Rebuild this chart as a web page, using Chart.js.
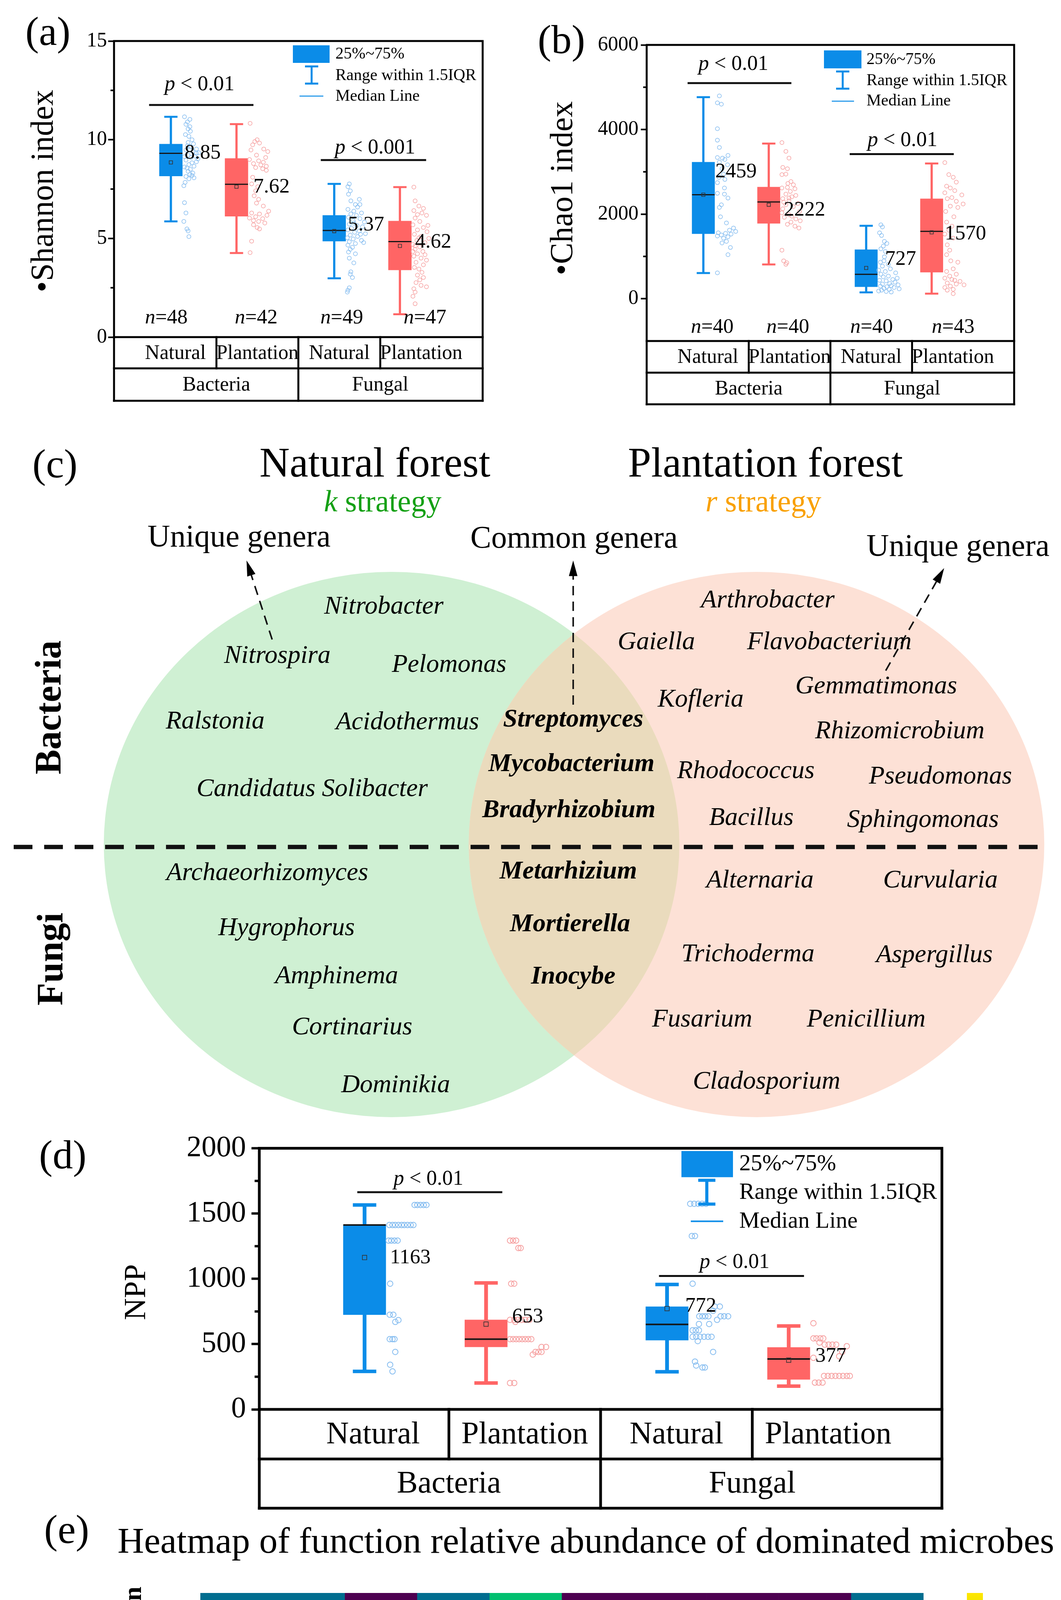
<!DOCTYPE html>
<html>
<head>
<meta charset="utf-8">
<title>Natural vs plantation forest microbes</title>
<script src="https://cdn.jsdelivr.net/npm/chart.js@4.4.1/dist/chart.umd.min.js"></script>
<style>
  html, body { margin: 0; padding: 0; background: #fff; }
  body { position: relative; width: 2717px; height: 5629px; overflow: hidden; }
  canvas { position: absolute; }
</style>
</head>
<body>
<canvas id="chartA" width="1360" height="1060" style="left:0px;top:0px;width:1360px;height:1060px"></canvas>
<canvas id="chartB" width="1357" height="1060" style="left:1360px;top:0px;width:1357px;height:1060px"></canvas>
<canvas id="chartC" width="2717" height="1820" style="left:0px;top:1060px;width:2717px;height:1820px"></canvas>
<canvas id="chartD" width="2717" height="990" style="left:0px;top:2880px;width:2717px;height:990px"></canvas>
<canvas id="chartE" width="2717" height="1759" style="left:0px;top:3870px;width:2717px;height:1759px"></canvas>
<script>
// ---------- shared categories ----------
var groups = ['Natural', 'Plantation', 'Natural', 'Plantation'];
var kingdoms = ['Bacteria', 'Fungal'];
var boxX = [0.444, 1.245, 2.438, 3.24];
var legendText = ['25%~75%', 'Range within 1.5IQR', 'Median Line'];

// ---------- (a) Shannon index ----------
var shannonLow = [5.86, 4.26, 2.98, 1.16];
var shannonQ1 = [8.16, 6.12, 4.86, 3.40];
var shannonMed = [9.31, 7.74, 5.40, 4.84];
var shannonQ3 = [9.78, 9.05, 6.17, 5.88];
var shannonHigh = [11.16, 10.79, 7.76, 7.60];
var shannonMean = [8.85, 7.62, 5.37, 4.62];
var shannonN = [48, 42, 49, 47];
var shannonTicks = [0, 5, 10, 15];
var shannonMinor = [2.5, 7.5, 12.5];
var shannonP = ['0.01', '0.001'];
var shannonDots = [
  [11.16,11.03,10.90,10.78,10.66,10.55,10.43,10.26,10.17,10.00,9.86,9.79,9.66,9.53,9.48,9.40,9.34,9.22,9.17,9.10,9.03,8.97,8.83,8.74,8.66,8.57,8.50,8.40,8.31,8.24,8.14,8.07,8.02,7.84,7.67,6.81,6.29,5.86,5.48,5.38,5.09,9.69,9.31,9.14,8.88,8.62,8.19,9.48],
  [10.83,10.00,9.91,9.83,9.74,9.53,9.48,9.40,9.22,9.10,9.00,8.93,8.86,8.79,8.72,8.66,8.59,8.53,7.76,7.62,7.41,7.16,6.79,6.64,6.29,6.24,6.17,6.10,6.03,6.00,5.90,5.86,5.78,5.55,5.48,4.86,4.28,8.10,8.45,6.98,5.69,6.38],
  [7.76,7.62,7.41,7.24,6.98,6.90,6.72,6.59,6.47,6.38,6.29,6.24,6.17,6.07,6.00,5.90,5.83,5.72,5.66,5.59,5.52,5.43,5.38,5.31,5.24,5.17,5.10,5.03,4.97,4.90,4.83,4.74,4.66,4.55,4.45,4.31,4.00,3.76,3.31,3.19,3.02,2.50,2.38,2.28,5.78,5.21,4.79,4.22,6.72],
  [7.60,6.90,6.64,6.41,6.29,6.21,6.17,6.03,5.86,5.69,5.55,5.43,5.34,5.21,5.10,5.00,4.90,4.79,4.69,4.57,4.45,4.34,4.22,4.10,4.00,3.90,3.79,3.66,3.45,3.28,3.14,3.02,2.90,2.76,2.62,2.45,2.28,2.07,1.69,5.66,5.03,4.62,4.17,3.53,2.55,6.52,4.34]
];
var shannonJit = [
  [.09,.42,.27,.18,.42,.31,.45,.15,.36,.55,.31,.64,.45,.82,.18,.60,.96,.31,.73,.49,.91,.18,.55,.36,.67,.24,.45,.31,.60,.42,.18,.67,.36,.13,.05,.09,.18,.05,.24,.31,.36,.27,.82,.09,.82,.09,.55,.42],
  [.07,.40,.29,.51,.19,.71,.11,.90,.37,.80,.04,.47,.69,.23,.57,.83,.33,.66,.14,.43,.33,.26,.37,.69,.14,.51,.86,.33,.04,.66,.23,.47,.76,.40,.51,.14,.07,.19,.83,.47,.23,.94],
  [.15,.08,.20,.11,.66,.23,.46,.57,.08,.38,.77,.23,.51,.11,.69,.35,.92,.15,.54,.82,.26,.08,.66,.42,.97,.20,.57,.05,.35,.77,.15,.46,.08,.31,.20,.11,.15,.38,.23,.20,.31,.15,.08,.05,.38,.72,.88,.46,.69],
  [.10,.17,.38,.10,.55,.30,.80,.17,.43,.05,.63,.30,.83,.13,.50,.93,.27,.72,.05,.43,.17,.60,.30,.10,.50,.80,.22,.63,.38,.55,.30,.63,.43,.22,.50,.10,.17,.05,.17,.88,.38,.17,.72,.13,.80,.63,.05]
];

// ---------- (b) Chao1 index ----------
var chaoLow = [608, 809, 150, 119];
var chaoQ1 = [1536, 1781, 282, 627];
var chaoMed = [2458, 2288, 577, 1592];
var chaoQ3 = [3229, 2640, 1160, 2364];
var chaoHigh = [4765, 3668, 1724, 3197];
var chaoMean = [2459, 2222, 727, 1570];
var chaoN = [40, 40, 40, 43];
var chaoTicks = [0, 2000, 4000, 6000];
var chaoMinor = [1000, 3000, 5000];
var chaoP = ['0.01', '0.01'];
var chaoDots = [
  [4795,4631,4599,4019,3748,3577,3388,3338,3325,3293,3230,3167,3073,2946,2871,2820,2744,2618,2492,2473,2221,2158,1792,1672,1621,1590,1558,1546,1527,1508,1483,1464,1432,1356,1319,1211,1041,612,2379,1937],
  [3691,3483,3325,3104,3073,2946,2934,2770,2694,2631,2618,2599,2536,2473,2442,2410,2366,2315,2252,2221,2177,2126,2063,1987,1924,1886,1842,1811,1760,1716,1672,1148,896,852,814,2379,2032,1950,2284,2726],
  [1748,1697,1558,1495,1356,1306,1243,1180,1117,896,864,814,770,707,644,580,536,486,454,423,391,360,347,328,309,297,284,265,246,221,202,170,158,991,675,612,517,435,233,183],
  [3218,2934,2871,2757,2662,2618,2555,2505,2454,2391,2366,2303,2240,2189,2158,1811,1716,1621,1527,1432,1274,1148,1041,896,707,644,580,536,486,454,410,372,347,328,297,265,221,202,120,2063,1937,864,435]
];
var chaoJit = [
  [.19,.10,.28,.10,.10,.19,.58,.10,.33,.44,.19,.56,.31,.38,.17,.44,.10,.42,.10,.42,.28,.19,.51,.83,.65,.93,.14,.47,.72,.28,.10,.58,.38,.51,.31,.69,.58,.10,.58,.24],
  [.06,.24,.38,.10,.31,.24,.06,.47,.58,.31,.06,.65,.44,.24,.69,.51,.10,.38,.79,.24,.58,.10,.86,.38,.17,.69,.89,.47,.31,.65,.83,.06,.14,.28,.24,.38,.06,.51,.14,.33],
  [.13,.20,.07,.16,.29,.40,.24,.13,.33,.27,.11,.47,.20,.56,.33,.13,.47,.87,.67,.37,.77,.53,.20,.91,.60,.11,.40,.73,.27,.51,.16,.37,.60,.29,.03,.80,.24,.07,.96,.03],
  [.06,.24,.44,.58,.14,.31,.51,.06,.83,.38,.17,.58,.89,.31,.65,.14,.38,.24,.06,.44,.17,.28,.14,.33,.44,.14,.58,.28,.06,.38,.75,.17,.58,.93,.31,.06,.44,.17,.44,.10,.47,.65,.51]
];

// ---------- (d) NPP ----------
var nppLow = [291, 202, 288, 178];
var nppQ1 = [725, 478, 530, 229];
var nppMed = [1412, 538, 651, 386];
var nppQ3 = [1412, 686, 787, 475];
var nppHigh = [1566, 969, 957, 639];
var nppMean = [1163, 653, 772, 377];
var nppTicks = [0, 500, 1000, 1500, 2000];
var nppMinor = [250, 750, 1250, 1750];
var nppP = ['0.01', '0.01'];
var nppDots = [
  [1566,1566,1566,1566,1566,1412,1412,1412,1412,1412,1412,1412,1412,1412,1293,1293,1293,1293,963,725,725,684,670,538,538,538,440,342,291],
  [1293,1293,1293,1236,1236,963,963,686,686,686,686,686,686,670,538,538,538,538,538,538,538,538,478,478,440,440,440,420,202,202],
  [1575,1575,1575,1575,1575,1328,1328,963,788,788,755,713,713,713,713,713,713,713,686,654,654,606,606,606,556,556,556,556,556,556,523,440,366,336,321,321],
  [660,544,544,544,544,512,496,496,496,496,484,440,395,407,256,256,256,256,256,256,256,256,205,205,205]
];
var nppJit = [
  [.68,.75,.83,.91,.98,.04,.12,.19,.27,.35,.42,.50,.58,.65,.02,.09,.17,.25,.06,.05,.14,.27,.19,.05,.12,.17,.19,.06,.12],
  [.02,.10,.18,.24,.30,.05,.13,.02,.13,.22,.32,.42,.53,.16,.02,.10,.18,.26,.34,.42,.50,.58,.85,.97,.69,.77,.85,.62,.02,.13],
  [.00,.10,.20,.30,.40,.04,.12,.06,.62,.75,.58,.23,.31,.38,.46,.77,.86,.96,.68,.22,.48,.06,.14,.22,.06,.15,.25,.35,.45,.54,.19,.58,.12,.15,.31,.37],
  [.04,.04,.12,.22,.30,.20,.34,.44,.54,.64,.92,.80,.04,.72,.32,.42,.52,.62,.72,.82,.92,1.0,.08,.18,.28]
];

// ---------- (c) Venn genera ----------
var vennSets = ['Natural forest', 'Plantation forest'];
var vennStrategy = ['k', 'r'];
var vennHeads = ['Unique genera', 'Common genera', 'Unique genera'];
var vennRows = ['Bacteria', 'Fungi'];
var bacNatural = ['Nitrobacter', 'Nitrospira', 'Pelomonas', 'Ralstonia', 'Acidothermus', 'Candidatus Solibacter'];
var bacCommon = ['Streptomyces', 'Mycobacterium', 'Bradyrhizobium'];
var bacPlant = ['Arthrobacter', 'Gaiella', 'Flavobacterium', 'Kofleria', 'Gemmatimonas', 'Rhizomicrobium', 'Rhodococcus', 'Pseudomonas', 'Bacillus', 'Sphingomonas'];
var fungNatural = ['Archaeorhizomyces', 'Hygrophorus', 'Amphinema', 'Cortinarius', 'Dominikia'];
var fungCommon = ['Metarhizium', 'Mortierella', 'Inocybe'];
var fungPlant = ['Alternaria', 'Curvularia', 'Trichoderma', 'Aspergillus', 'Fusarium', 'Penicillium', 'Cladosporium'];

// ---------- (e) heatmap ----------
var heatFunctions = ['Entomopathogen', 'Mycorrhizal', 'Nitrification', 'Nitrogen fixation', 'Organic matter decomposition', 'Pathogen', 'Plant growth promotion', 'Pollutant degradation', 'Rhizosphere interaction', 'Saprotrophic'];
var heatRows = ['Common', 'Unique', 'Unique'];
var heatCommon = [0.17, 0.17, 0.00, 0.17, 0.33, 0.00, 0.00, 0.00, 0.00, 0.17];
var heatNatural = [0.00, 0.45, 0.18, 0.00, 0.36, 0.00, 0.00, 0.00, 0.00, 0.00];
var heatPlant = [0.00, 0.00, 0.00, 0.00, 0.00, 0.47, 0.12, 0.35, 0.06, 0.00];
var cbTicks = [0, 0.1, 0.2, 0.3, 0.4];
var cbMax = 0.47;
var sigMarks = ['**', '***'];

// ---------- styles ----------
var SERIF = '"Liberation Serif", "Times New Roman", Times, serif';
var SANS = '"DejaVu Sans", Verdana, sans-serif';
var BLUE = '#0b8ce8', RED = '#ff6565';
var groupColors = [BLUE, RED, BLUE, RED];
var dotColors = ['#86bdf0', '#f6a1a1', '#86bdf0', '#f6a1a1'];
var GREEN_TXT = '#14a014', ORANGE_TXT = '#f9a000';

function f(size, style) { return (style ? style + ' ' : '') + size + 'px ' + SERIF; }
function line(ctx, x1, y1, x2, y2) { ctx.beginPath(); ctx.moveTo(x1, y1); ctx.lineTo(x2, y2); ctx.stroke(); }
// draw a row of differently styled text pieces
function runs(ctx, parts, x, y, align) {
  var total = 0;
  parts.forEach(function (p) { ctx.font = p[1]; p.w = ctx.measureText(p[0]).width; total += p.w; });
  var cx = align === 'center' ? x - total / 2 : (align === 'right' ? x - total : x);
  ctx.textAlign = 'left';
  parts.forEach(function (p) { ctx.font = p[1]; ctx.fillStyle = p[2] || '#000'; ctx.fillText(p[0], cx, y); cx += p.w; });
}
function vertical(ctx, parts, x, y) {
  ctx.save(); ctx.translate(x, y); ctx.rotate(-Math.PI / 2);
  ctx.textBaseline = 'middle'; runs(ctx, parts, 0, 0, 'center'); ctx.restore();
}

// ---------- box plot panels ----------
function boxPlugin(p) {
  return {
    id: 'boxDecor',
    afterDraw: function (chart) {
      var ctx = chart.ctx, a = chart.chartArea, x = chart.scales.x, y = chart.scales.y;
      ctx.save();
      ctx.strokeStyle = '#000'; ctx.lineWidth = p.frameW; ctx.lineCap = 'square';
      ctx.strokeRect(a.left, a.top, a.right - a.left, a.bottom - a.top);
      ctx.lineCap = 'butt'; ctx.lineWidth = p.frameW - 1;
      p.minor.forEach(function (v) { var py = y.getPixelForValue(v); line(ctx, a.left - p.tickLen * 0.6, py, a.left, py); });

      // category table under the plot
      var r1 = a.bottom + p.table[0], r2 = a.bottom + p.table[1];
      ctx.lineWidth = p.frameW; ctx.lineCap = 'square';
      line(ctx, a.left, r1, a.right, r1); line(ctx, a.left, r2, a.right, r2);
      line(ctx, a.left, a.bottom, a.left, r2); line(ctx, a.right, a.bottom, a.right, r2);
      line(ctx, x.getPixelForValue(2), a.bottom, x.getPixelForValue(2), r2);
      line(ctx, x.getPixelForValue(1), a.bottom, x.getPixelForValue(1), r1);
      line(ctx, x.getPixelForValue(3), a.bottom, x.getPixelForValue(3), r1);
      ctx.textBaseline = 'middle';
      groups.forEach(function (g, i) { runs(ctx, [[g, f(p.tableFont)]], x.getPixelForValue(i + 0.5), (a.bottom + r1) / 2 + 2, 'center'); });
      kingdoms.forEach(function (k, i) { runs(ctx, [[k, f(p.tableFont)]], x.getPixelForValue(i * 2 + 1), (r1 + r2) / 2 + 2, 'center'); });

      // legend
      var L = p.legend, lx = a.left, ly = a.top;
      ctx.fillStyle = BLUE;
      ctx.fillRect(lx + L.box[0], ly + L.box[1], L.box[2], L.box[3]);
      ctx.strokeStyle = BLUE; ctx.lineWidth = L.lw; ctx.lineCap = 'butt';
      line(ctx, lx + L.wx, ly + L.wy[0], lx + L.wx, ly + L.wy[1]);
      line(ctx, lx + L.wx - L.capR, ly + L.wy[0], lx + L.wx + L.capR, ly + L.wy[0]);
      line(ctx, lx + L.wx - L.capR, ly + L.wy[1], lx + L.wx + L.capR, ly + L.wy[1]);
      ctx.lineWidth = L.lw * 0.5;
      line(ctx, lx + L.med[0], ly + L.med[2], lx + L.med[1], ly + L.med[2]);
      ctx.textBaseline = 'middle';
      legendText.forEach(function (t, i) { runs(ctx, [[t, f(L.font)]], lx + L.tx, ly + L.rows[i], 'left'); });

      // significance text, n labels, mean labels
      ctx.textBaseline = 'alphabetic';
      p.pText.forEach(function (t, i) {
        runs(ctx, [['p', f(p.pFont, 'italic')], [' < ' + p.pVal[i], f(p.pFont)]], x.getPixelForValue(t[0]), y.getPixelForValue(t[1]), 'center');
      });
      if (p.n) {
        p.n.forEach(function (n, i) {
          runs(ctx, [['n', f(p.valFont, 'italic')], ['=' + n, f(p.valFont)]], x.getPixelForValue(p.nX[i]), y.getPixelForValue(p.nY), 'center');
        });
      }
      p.mean.forEach(function (m, i) {
        runs(ctx, [[p.fmt(m), f(p.valFont)]], x.getPixelForValue(p.valX[i]), y.getPixelForValue(p.valY[i]), 'left');
      });

      // panel letter and axis title
      runs(ctx, [[p.letter, f(104)]], p.letterAt[0], p.letterAt[1], 'left');
      vertical(ctx, [[p.title, f(p.titleFont)]], p.titleAt[0], p.titleAt[1]);
      ctx.restore();
    }
  };
}

function boxChart(id, p) {
  var ds = [];
  ds.push({ type: 'bar', order: 6, grouped: false, barThickness: p.whiskerW,
    data: boxX.map(function (x, i) { return { x: x, y: [p.low[i], p.high[i]] }; }),
    backgroundColor: groupColors, borderWidth: 0 });
  ds.push({ type: 'bar', order: 4, grouped: false, barThickness: p.boxW,
    data: boxX.map(function (x, i) { return { x: x, y: [p.q1[i], p.q3[i]] }; }),
    backgroundColor: groupColors, borderWidth: 0 });
  var caps = [];
  boxX.forEach(function (x, i) { caps.push({ x: x, y: p.low[i] }, { x: x, y: p.high[i] }); });
  ds.push({ type: 'scatter', order: 5, data: caps, pointStyle: 'line', pointRadius: p.capR,
    pointBorderWidth: p.whiskerW, pointBorderColor: function (c) { return groupColors[c.dataIndex >> 1]; } });
  ds.push({ type: 'scatter', order: 2, pointStyle: 'line', pointRadius: p.boxW / 2,
    data: boxX.map(function (x, i) { return { x: x, y: p.med[i] }; }),
    pointBorderWidth: p.medW, pointBorderColor: '#151515' });
  ds.push({ type: 'scatter', order: 1, pointStyle: 'rect', pointRadius: p.meanR,
    data: boxX.map(function (x, i) { return { x: x, y: p.mean[i] }; }),
    pointBorderWidth: 1.6, pointBorderColor: '#333', pointBackgroundColor: 'rgba(0,0,0,0)' });
  p.dots.forEach(function (vals, g) {
    ds.push({ type: 'scatter', order: 3, pointStyle: 'circle', pointRadius: p.dotR,
      data: vals.map(function (v, k) { return { x: boxX[g] + p.jitOff + (p.jit[g][k] || 0) * p.jitW[g], y: v }; }),
      pointBorderWidth: p.dotBW, pointBorderColor: dotColors[g], pointBackgroundColor: 'rgba(255,255,255,0)' });
  });
  p.pLine.forEach(function (L) {
    ds.push({ type: 'line', order: 0, showLine: true, data: [{ x: L[0], y: L[2] }, { x: L[1], y: L[2] }],
      borderColor: '#111', borderWidth: p.pW, pointRadius: 0 });
  });

  return new Chart(document.getElementById(id), {
    type: 'scatter',
    data: { datasets: ds },
    options: {
      responsive: false, animation: false, devicePixelRatio: 1,
      layout: { padding: { top: p.pad[0], right: p.pad[1], bottom: p.pad[2], left: 0 } },
      plugins: { legend: { display: false }, tooltip: { enabled: false } },
      scales: {
        x: { type: 'linear', min: 0, max: 4, display: false },
        y: {
          type: 'linear', min: p.yMin, max: p.yMax,
          afterFit: function (s) { s.width = p.axisW; },
          afterBuildTicks: function (s) { s.ticks = p.ticks.map(function (v) { return { value: v }; }); },
          ticks: { font: { family: SERIF, size: p.tickFont }, color: '#000', padding: p.tickPad,
            callback: function (v) { return String(v); } },
          grid: { drawOnChartArea: false, tickLength: p.tickLen, tickWidth: p.frameW - 1, tickColor: '#000', color: '#000' },
          border: { display: false }
        }
      }
    },
    plugins: [boxPlugin(p)]
  });
}

boxChart('chartA', {
  low: shannonLow, q1: shannonQ1, med: shannonMed, q3: shannonQ3, high: shannonHigh, mean: shannonMean,
  dots: shannonDots, jit: shannonJit, n: shannonN, pVal: shannonP,
  fmt: function (v) { return v.toFixed(2); },
  yMin: 0, yMax: 15, ticks: shannonTicks, minor: shannonMinor,
  pad: [105, 124, 197], axisW: 292, tickFont: 52, tickLen: 15, tickPad: 3, frameW: 5,
  table: [80, 163], tableFont: 52,
  boxW: 59, whiskerW: 5, capR: 17, medW: 3, meanR: 6, dotR: 5, dotBW: 1.5,
  jitOff: 0.148, jitW: [0.20, 0.26, 0.24, 0.22],
  pLine: [[0.178, 1.452, 11.76], [2.274, 3.56, 8.97]], pText: [[0.794, 12.5], [2.937, 9.31]], pW: 5, pFont: 54,
  nX: [0.388, 1.485, 2.53, 3.546], nY: 0.69,
  valX: [0.61, 1.452, 2.605, 3.425], valY: [9.05, 7.33, 5.40, 4.53], valFont: 53,
  legend: { box: [458, 11, 94, 45], wx: 506, wy: [65, 109], capR: 17, lw: 5, med: [475, 536, 141], tx: 567, rows: [34, 89, 142], font: 42 },
  letter: '(a)', letterAt: [65, 115], title: '\u2022Shannon index', titleAt: [113, 489], titleFont: 82
});

boxChart('chartB', {
  low: chaoLow, q1: chaoQ1, med: chaoMed, q3: chaoQ3, high: chaoHigh, mean: chaoMean,
  dots: chaoDots, jit: chaoJit, n: chaoN, pVal: chaoP,
  fmt: function (v) { return String(v); },
  yMin: -1000, yMax: 6000, ticks: chaoTicks, minor: chaoMinor,
  pad: [115, 120, 187], axisW: 296, tickFont: 52, tickLen: 15, tickPad: 6, frameW: 5,
  table: [81, 162], tableFont: 52,
  boxW: 58, whiskerW: 5, capR: 17, medW: 3, meanR: 6, dotR: 5, dotBW: 1.5,
  jitOff: 0.145, jitW: [0.27, 0.27, 0.27, 0.27],
  pLine: [[0.251, 1.522, 5098], [2.236, 3.511, 3420]], pText: [[0.812, 5407], [2.882, 3609]], pW: 5, pFont: 54,
  nX: [0.553, 1.479, 2.504, 3.503], nY: -808,
  valX: [0.59, 1.43, 2.67, 3.40], valY: [2871, 1968, 801, 1400], valFont: 53,
  legend: { box: [454, 14, 96, 46], wx: 502, wy: [68, 112], capR: 17, lw: 5, med: [474, 531, 144], tx: 563, rows: [38, 92, 144], font: 42 },
  letter: '(b)', letterAt: [17, 136], title: '\u2022Chao1 index', titleAt: [83, 482], titleFont: 82
});

boxChart('chartD', {
  low: nppLow, q1: nppQ1, med: nppMed, q3: nppQ3, high: nppHigh, mean: nppMean,
  dots: nppDots, jit: nppJit, n: null, pVal: nppP,
  fmt: function (v) { return String(v); },
  yMin: 0, yMax: 2000, ticks: nppTicks, minor: nppMinor,
  pad: [55, 305, 262], axisW: 664, tickFont: 76, tickLen: 20, tickPad: 14, frameW: 7,
  table: [127, 253], tableFont: 80,
  boxW: 109, whiskerW: 9, capR: 30, medW: 4, meanR: 8, dotR: 7, dotBW: 2,
  jitOff: 0.153, jitW: [0.26, 0.25, 0.26, 0.25],
  pLine: [[0.396, 1.352, 1664], [2.385, 3.341, 1022]], pText: [[0.865, 1720], [2.883, 1082]], pW: 5, pFont: 54,
  valX: [0.612, 1.417, 2.558, 3.416], valY: [1120, 667, 748, 366], valFont: 53,
  legend: { box: [1081, 7, 132, 67], wx: 1146, wy: [82, 143], capR: 22, lw: 8, med: [1105, 1188, 187], tx: 1229, rows: [41, 114, 188], font: 59 },
  letter: '(d)', letterAt: [100, 111], title: 'NPP', titleAt: [351, 428], titleFont: 78
});

// ---------- (c) Venn diagram ----------
var vennCenterX = [-0.634, 0.634];
var vennTitleAt = [[-0.692, 1.390], [0.665, 1.390]];
var vennStrategyAt = [[-0.665, 1.252], [0.658, 1.252]];
var vennHeadAt = [[-1.164, 1.123], [0.0, 1.119], [1.334, 1.089]];
var vennArrows = [[-1.049, 0.752, -1.138, 1.042], [-0.003, 0.513, -0.003, 1.042], [1.083, 0.638, 1.286, 1.014]];
var vennDivider = [-1.947, 1.634, -0.009];
var vennRowAt = [[-1.818, 0.503], [-1.811, -0.420]];
var bacNaturalAt = [[-0.661, 0.872], [-1.031, 0.691], [-0.434, 0.658], [-1.247, 0.451], [-0.579, 0.447], [-0.910, 0.203]];
var bacCommonAt = [[-0.003, 0.457], [-0.009, 0.294], [-0.018, 0.125]];
var bacPlantAt = [[0.673, 0.895], [0.286, 0.741], [0.887, 0.741], [0.440, 0.530], [1.050, 0.579], [1.132, 0.415], [0.597, 0.268], [1.273, 0.249], [0.616, 0.096], [1.212, 0.089]];
var fungNaturalAt = [[-1.066, -0.106], [-0.999, -0.307], [-0.825, -0.484], [-0.771, -0.672], [-0.620, -0.884]];
var fungCommonAt = [[-0.020, -0.100], [-0.014, -0.294], [-0.003, -0.486]];
var fungPlantAt = [[0.646, -0.133], [1.273, -0.133], [0.604, -0.404], [1.252, -0.407], [0.445, -0.643], [1.015, -0.643], [0.669, -0.871]];

var vennPlugin = {
  id: 'venn',
  afterDraw: function (chart) {
    var ctx = chart.ctx, x = chart.scales.x, y = chart.scales.y;
    var rx = x.getPixelForValue(1) - x.getPixelForValue(0);
    var ry = y.getPixelForValue(0) - y.getPixelForValue(1);
    var cy = y.getPixelForValue(0);
    function ell(i) { ctx.beginPath(); ctx.ellipse(x.getPixelForValue(vennCenterX[i]), cy, rx, ry, 0, 0, Math.PI * 2); }
    ctx.save();
    ell(0); ctx.fillStyle = '#cff0d3'; ctx.fill();
    ell(1); ctx.fillStyle = '#fde1d6'; ctx.fill();
    ctx.save(); ell(0); ctx.clip(); ell(1); ctx.fillStyle = '#eadbbd'; ctx.fill(); ctx.restore();

    // divider between bacteria and fungi
    ctx.strokeStyle = '#111'; ctx.lineWidth = 11; ctx.setLineDash([48, 30]);
    line(ctx, x.getPixelForValue(vennDivider[0]), y.getPixelForValue(vennDivider[2]), x.getPixelForValue(vennDivider[1]), y.getPixelForValue(vennDivider[2]));

    // dashed arrows
    ctx.lineWidth = 4; ctx.setLineDash([24, 16]);
    vennArrows.forEach(function (A) {
      var x1 = x.getPixelForValue(A[0]), y1 = y.getPixelForValue(A[1]), x2 = x.getPixelForValue(A[2]), y2 = y.getPixelForValue(A[3]);
      var ang = Math.atan2(y2 - y1, x2 - x1), hl = 40, hw = 11;
      line(ctx, x1, y1, x2 - Math.cos(ang) * hl * 0.8, y2 - Math.sin(ang) * hl * 0.8);
      ctx.beginPath();
      ctx.moveTo(x2, y2);
      ctx.lineTo(x2 - Math.cos(ang) * hl + Math.sin(ang) * hw, y2 - Math.sin(ang) * hl - Math.cos(ang) * hw);
      ctx.lineTo(x2 - Math.cos(ang) * hl - Math.sin(ang) * hw, y2 - Math.sin(ang) * hl + Math.cos(ang) * hw);
      ctx.closePath(); ctx.fillStyle = '#000'; ctx.fill();
    });
    ctx.setLineDash([]);

    ctx.textBaseline = 'middle';
    function put(names, pos, style) {
      names.forEach(function (n, i) { runs(ctx, [[n, f(66, style)]], x.getPixelForValue(pos[i][0]), y.getPixelForValue(pos[i][1]), 'center'); });
    }
    put(bacNatural, bacNaturalAt, 'italic');
    put(bacPlant, bacPlantAt, 'italic');
    put(fungNatural, fungNaturalAt, 'italic');
    put(fungPlant, fungPlantAt, 'italic');
    put(bacCommon, bacCommonAt, 'italic bold');
    put(fungCommon, fungCommonAt, 'italic bold');

    var sc = [GREEN_TXT, ORANGE_TXT];
    vennSets.forEach(function (s, i) {
      runs(ctx, [[s, f(107)]], x.getPixelForValue(vennTitleAt[i][0]), y.getPixelForValue(vennTitleAt[i][1]), 'center');
      runs(ctx, [[vennStrategy[i], f(78, 'italic'), sc[i]], [' strategy', f(78), sc[i]]], x.getPixelForValue(vennStrategyAt[i][0]), y.getPixelForValue(vennStrategyAt[i][1]), 'center');
    });
    vennHeads.forEach(function (h, i) { runs(ctx, [[h, f(80)]], x.getPixelForValue(vennHeadAt[i][0]), y.getPixelForValue(vennHeadAt[i][1]), 'center'); });
    vennRows.forEach(function (r, i) { vertical(ctx, [[r, f(95, 'bold')]], x.getPixelForValue(vennRowAt[i][0]), y.getPixelForValue(vennRowAt[i][1])); });
    ctx.textBaseline = 'alphabetic';
    runs(ctx, [['(c)', f(104)]], 83, 162, 'left');
    ctx.restore();
  }
};

new Chart(document.getElementById('chartC'), {
  type: 'scatter',
  data: { datasets: [] },
  options: {
    responsive: false, animation: false, devicePixelRatio: 1,
    layout: { padding: 0 },
    plugins: { legend: { display: false }, tooltip: { enabled: false } },
    scales: {
      x: { type: 'linear', display: false, min: -1.9946, max: 1.6920 },
      y: { type: 'linear', display: false, min: -1.0287, max: 1.5788 }
    }
  },
  plugins: [vennPlugin]
});

// ---------- (e) heatmap ----------
var heatStops = [[0, [77, 0, 80]], [0.06, [83, 41, 127]], [0.12, [43, 79, 142]], [0.15, [0, 95, 146]], [0.17, [0, 109, 143]],
  [0.2, [0, 125, 146]], [0.25, [0, 154, 136]], [0.3, [0, 181, 122]], [0.33, [0, 191, 111]], [0.35, [0, 198, 90]],
  [0.37, [26, 203, 69]], [0.40, [156, 216, 28]], [0.44, [226, 226, 4]], [0.47, [255, 230, 0]]];
function heatColor(v) {
  for (var i = 1; i < heatStops.length; i++) {
    if (v <= heatStops[i][0]) {
      var a = heatStops[i - 1], b = heatStops[i], t = (v - a[0]) / (b[0] - a[0]);
      return 'rgb(' + [0, 1, 2].map(function (k) { return Math.round(a[1][k] + (b[1][k] - a[1][k]) * t); }).join(',') + ')';
    }
  }
  return 'rgb(255,230,0)';
}
var heatByRow = [heatPlant, heatNatural, heatCommon]; // bottom to top
var rowNotes = [
  [['(', '#222'], ['Plantation', ORANGE_TXT], [')', '#222']],
  [['(', GREEN_TXT], ['Natural', GREEN_TXT], [')', GREEN_TXT]],
  [['(', '#222'], ['N', GREEN_TXT], [' & ', '#555'], ['P', ORANGE_TXT], [')', '#222']]
];

var heatPlugin = {
  id: 'heatDecor',
  afterDraw: function (chart) {
    var ctx = chart.ctx, a = chart.chartArea, y = chart.scales.y, cb = chart.scales.cb;
    ctx.save();
    // cell annotations
    ctx.textBaseline = 'middle';
    heatByRow.forEach(function (vals, r) {
      chart.getDatasetMeta(r).data.forEach(function (el, i) {
        var v = vals[i];
        ctx.font = '42px ' + SANS; ctx.textAlign = 'center';
        ctx.fillStyle = v >= 0.35 ? '#262626' : '#f0f0f0';
        ctx.fillText(v.toFixed(2), el.x, (el.y + el.base) / 2);
      });
    });
    // inner ticks
    ctx.strokeStyle = '#333'; ctx.lineWidth = 2.5;
    chart.getDatasetMeta(0).data.forEach(function (el) { line(ctx, el.x, a.bottom, el.x, a.bottom - 13); });
    [0.5, 1.5, 2.5].forEach(function (v) { line(ctx, a.left, y.getPixelForValue(v), a.left + 13, y.getPixelForValue(v)); });

    // row labels
    heatRows.forEach(function (name, k) {
      var r = 2 - k, cyy = y.getPixelForValue(r + 0.5) - (r === 0 ? 2 : 26);
      vertical(ctx, [[name, f(66, 'bold')]], a.left - 169, cyy);
      var parts = rowNotes[r].map(function (p) { return [p[0], f(54, r === 2 ? '' : 'bold'), p[1]]; });
      vertical(ctx, parts, a.left - 71, cyy + 4);
    });

    // significance brackets
    ctx.strokeStyle = '#555'; ctx.lineWidth = 3;
    [[2.6, 0.28, a.left - 339], [1.6, 0.5, a.left - 242]].forEach(function (B) {
      var t = y.getPixelForValue(B[0]), b = y.getPixelForValue(B[1]);
      ctx.beginPath(); ctx.moveTo(a.left - 209, t); ctx.lineTo(B[2], t); ctx.lineTo(B[2], b); ctx.lineTo(a.left - 209, b); ctx.stroke();
    });
    vertical(ctx, [[sigMarks[0], f(56), '#222']], a.left - 373, y.getPixelForValue(1.5));
    vertical(ctx, [[sigMarks[1], f(56), '#222']], a.left - 268, y.getPixelForValue(1.02));

    // colour bar
    var cbL = a.right + 111, cbW = 41, top = cb.getPixelForValue(cbMax), bot = cb.getPixelForValue(0);
    var g = ctx.createLinearGradient(0, bot, 0, top);
    heatStops.forEach(function (s) { g.addColorStop(s[0] / cbMax, 'rgb(' + s[1].join(',') + ')'); });
    ctx.fillStyle = g; ctx.fillRect(cbL, top, cbW, bot - top);
    ctx.strokeStyle = '#222'; ctx.lineWidth = 3;
    ctx.textBaseline = 'middle';
    cbTicks.forEach(function (v) {
      var py = cb.getPixelForValue(v);
      line(ctx, cbL + cbW - 14, py, cbL + cbW, py);
      runs(ctx, [[v.toFixed(1), f(62)]], cbL + 55, py, 'left');
    });

    // title and letter
    ctx.textBaseline = 'alphabetic';
    var title = 'Heatmap of function relative abundance of dominated microbes';
    ctx.font = f(100); var tw = ctx.measureText(title).width;
    runs(ctx, [[title, f(Math.round(100 * 2405 / tw))]], 301, 105, 'left');
    runs(ctx, [['(e)', f(104)]], 113, 80, 'left');
    ctx.restore();
  }
};

new Chart(document.getElementById('chartE'), {
  type: 'bar',
  data: {
    labels: heatFunctions,
    datasets: heatByRow.map(function (vals, r) {
      return {
        data: heatFunctions.map(function () { return [r, r + 1]; }),
        backgroundColor: function (c) { return heatColor(vals[c.dataIndex]); },
        borderWidth: 0, barPercentage: 1, categoryPercentage: 1, grouped: false
      };
    })
  },
  options: {
    responsive: false, animation: false, devicePixelRatio: 1,
    layout: { padding: { left: 513, right: 352, top: 208, bottom: 0 } },
    plugins: { legend: { display: false }, tooltip: { enabled: false } },
    scales: {
      x: {
        grid: { display: false }, border: { display: false },
        ticks: { font: { family: SERIF, size: 84 }, color: '#000', minRotation: 40, maxRotation: 40, autoSkip: false,
          padding: 2, labelOffset: 26 },
        afterFit: function (s) { s.height = 711; }
      },
      y: { display: false, min: 0, max: 3 },
      cb: { display: false, min: 0, max: cbMax, position: 'right' }
    }
  },
  plugins: [heatPlugin]
});
</script>
</body>
</html>
